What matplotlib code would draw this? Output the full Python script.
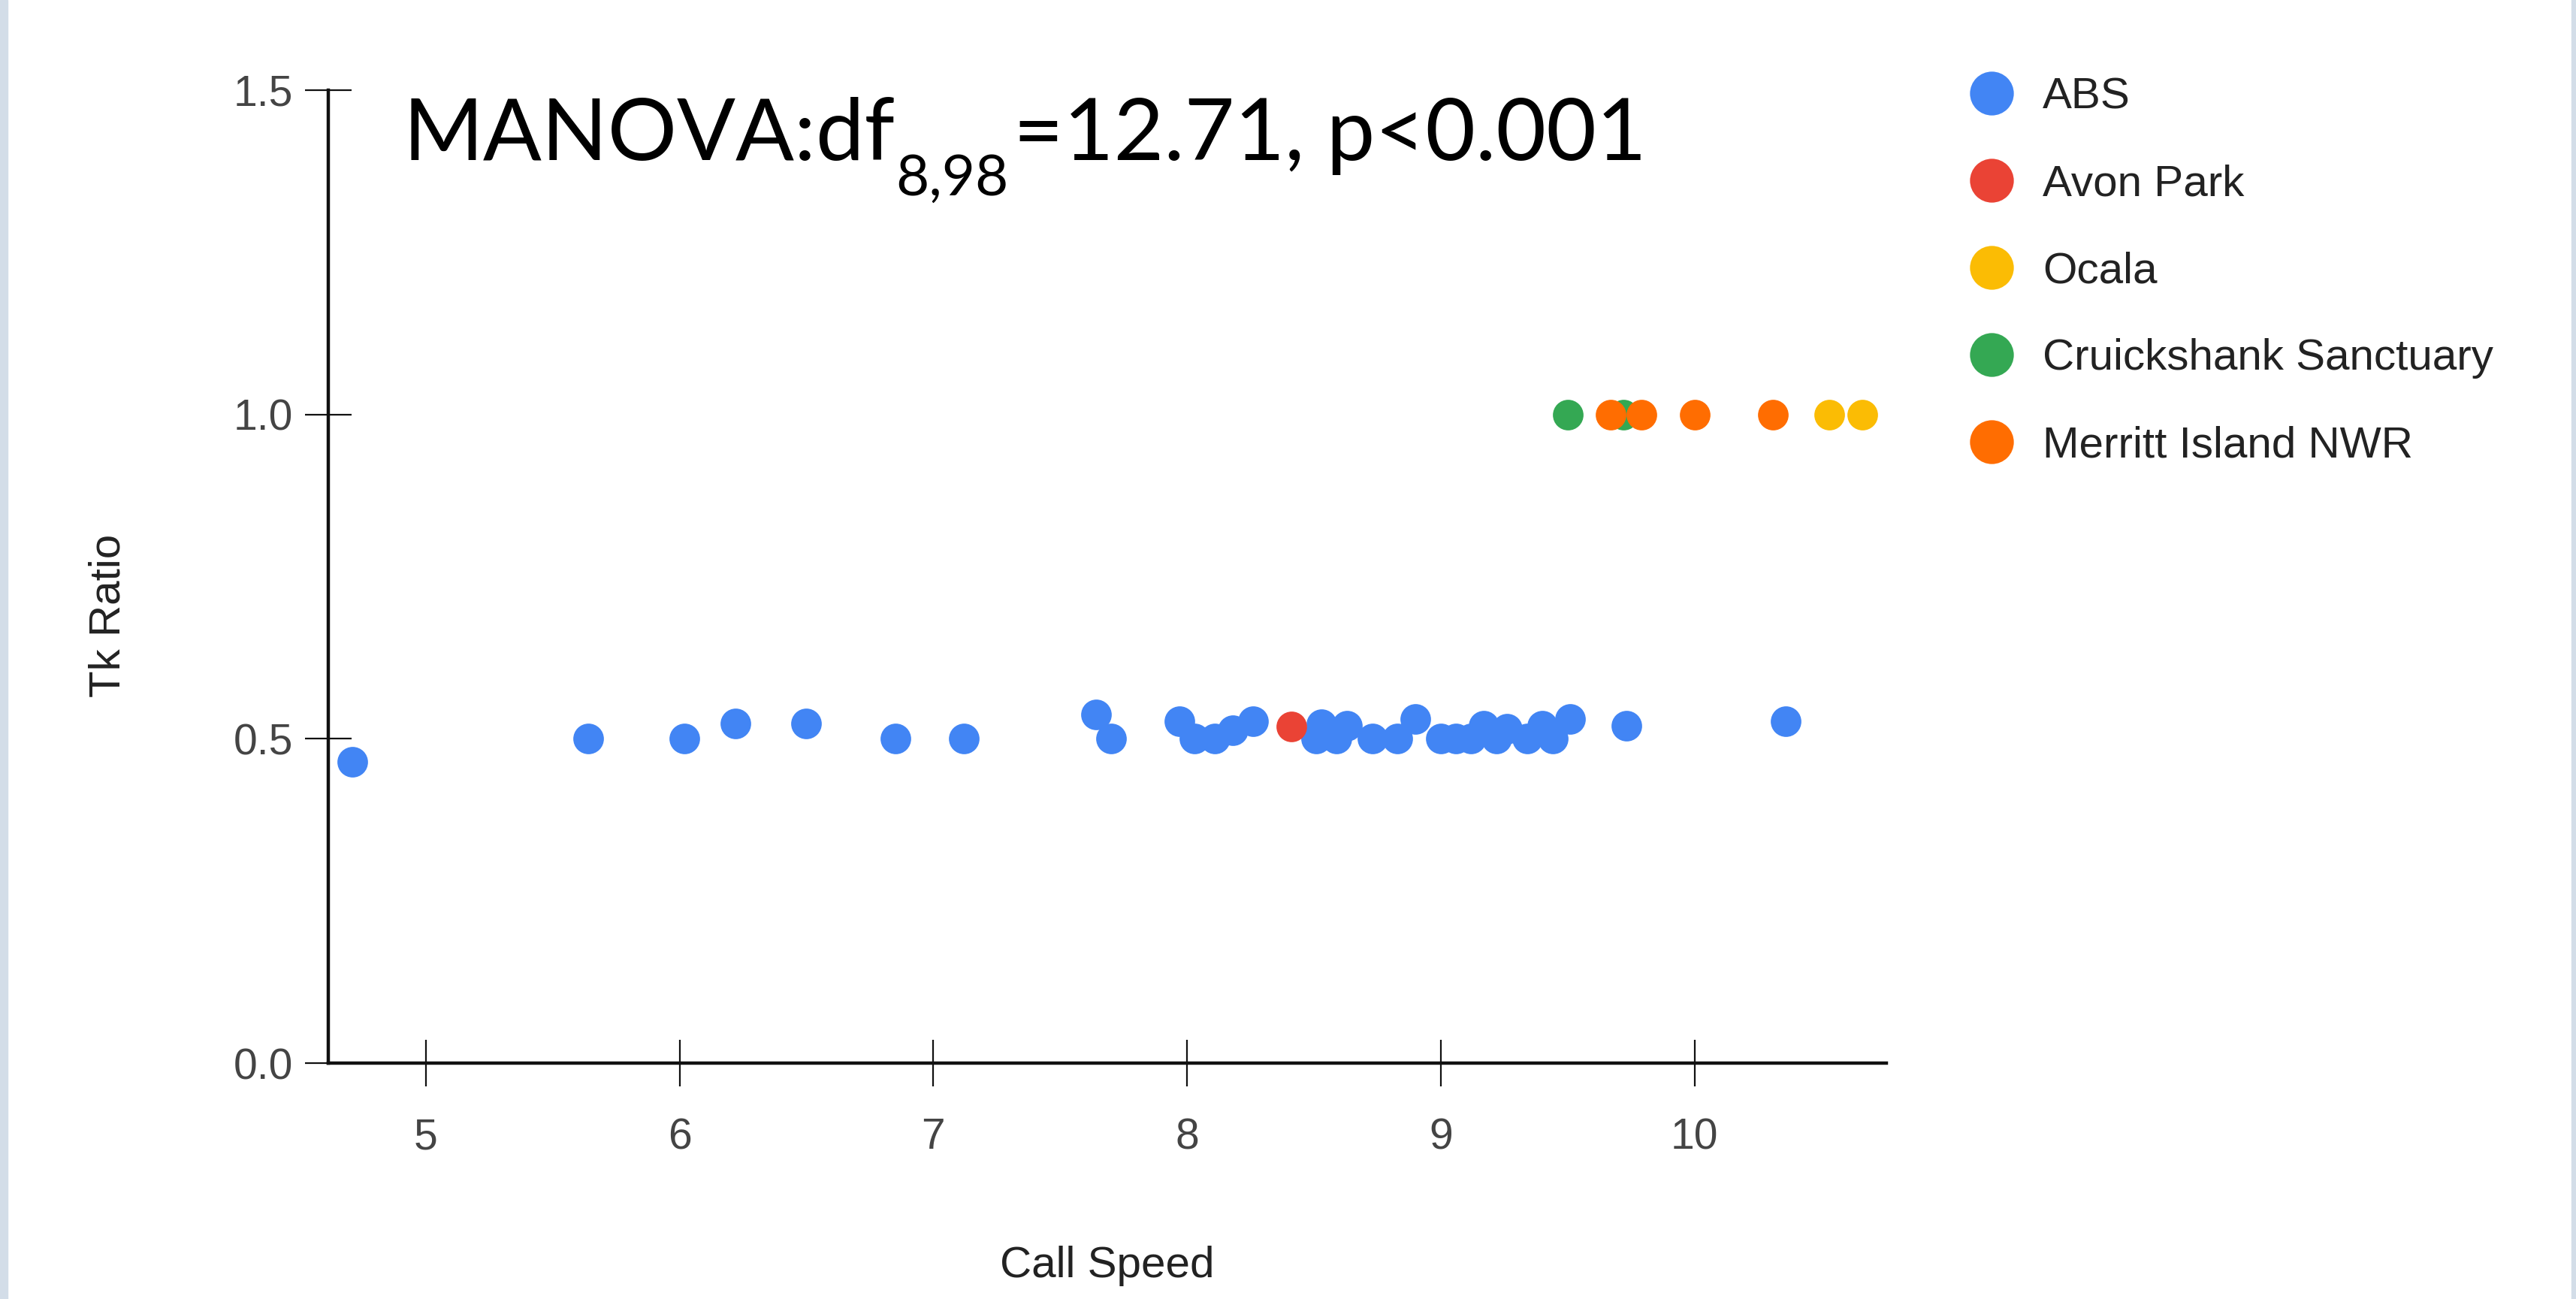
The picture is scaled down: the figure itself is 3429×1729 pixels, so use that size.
import matplotlib.pyplot as plt
from matplotlib.lines import Line2D
from matplotlib.patches import Rectangle

plt.rcParams['font.family'] = ['Liberation Sans', 'DejaVu Sans']

# values
abs_x = [4.71, 5.64, 6.02, 6.22, 6.50, 6.85, 7.12, 7.64, 7.70,
         7.97, 8.03, 8.11, 8.18, 8.26, 8.51, 8.53, 8.59, 8.63, 8.73,
         8.83, 8.90, 9.00, 9.06, 9.12, 9.17, 9.22, 9.26, 9.34, 9.40,
         9.44, 9.51, 9.73, 10.36]
abs_y = [0.465, 0.50, 0.50, 0.524, 0.524, 0.50, 0.50, 0.538, 0.50,
         0.527, 0.50, 0.50, 0.513, 0.527, 0.50, 0.522, 0.50, 0.52, 0.50,
         0.50, 0.53, 0.50, 0.50, 0.50, 0.52, 0.50, 0.515, 0.50, 0.52,
         0.50, 0.53, 0.52, 0.527]
avon_x = [8.41]
avon_y = [0.519]
ocala_x = [10.53, 10.66]
ocala_y = [1.0, 1.0]
cruick_x = [9.50, 9.72]
cruick_y = [1.0, 1.0]
merritt_x = [9.67, 9.79, 10.00, 10.31]
merritt_y = [1.0, 1.0, 1.0, 1.0]

names = ['ABS', 'Avon Park', 'Ocala', 'Cruickshank Sanctuary', 'Merritt Island NWR']
colors = ['#4285F4', '#EA4335', '#FBBC04', '#34A853', '#FF6D01']
xs = [abs_x, avon_x, ocala_x, cruick_x, merritt_x]
ys = [abs_y, avon_y, ocala_y, cruick_y, merritt_y]

fig = plt.figure(figsize=(34.3, 17.29), dpi=100)
fig.patches.append(Rectangle((0, 0), 0.003, 1, transform=fig.transFigure,
                             color='#d3dde8', zorder=0))
fig.patches.append(Rectangle((0.998, 0), 0.002, 1, transform=fig.transFigure,
                             color='#d3dde8', zorder=0))

ax = fig.add_axes([0.1274, 0.1816, 0.6047, 0.749])
for n, x, y, c in zip(names, xs, ys, colors):
    ax.scatter(x, y, s=860, color=c, linewidths=0, label=n, zorder=3, clip_on=False)

ax.set_xlim(4.616, 10.756)
ax.set_ylim(0, 1.5)
ax.set_xticks([5, 6, 7, 8, 9, 10])
ax.set_yticks([0, 0.5, 1.0, 1.5])
ax.set_yticklabels(['0.0', '0.5', '1.0', '1.5'])
for s in ['top', 'right']:
    ax.spines[s].set_visible(False)
for s in ['left', 'bottom']:
    ax.spines[s].set_linewidth(3.2)
    ax.spines[s].set_color('#111111')
ax.tick_params(direction='inout', length=44, width=1.6, color='#111111',
               labelsize=41, labelcolor='#444444')
ax.tick_params(axis='x', pad=30)
ax.tick_params(axis='y', pad=12)

fig.text(0.042, 0.5263, 'Tk Ratio', rotation=90, ha='center', va='center',
         fontsize=42, color='#222222')
fig.text(0.4297, 0.0168, 'Call Speed', ha='center', va='baseline',
         fontsize=42, color='#222222')

handles = [Line2D([], [], marker='o', ls='', ms=42, color=c, mec='none') for c in colors]
fig.legend(handles, names, loc='upper left', bbox_to_anchor=(0.7644, 0.9406),
           frameon=False, fontsize=42, handlelength=1.0, handletextpad=0.67,
           labelspacing=1.06, borderaxespad=0, borderpad=0, labelcolor='#222222')

# statistics annotation, built piece by piece for the subscript
r = fig.canvas.get_renderer()
t1 = fig.text(0.1565, 0.8768, 'MANOVA:df', fontsize=83, family='Lato', va='baseline')
bb = t1.get_window_extent(r)
t2 = fig.text(bb.x1 / fig.bbox.width, 0.8496, '8,98', fontsize=55, family='Lato',
              va='baseline')
bb = t2.get_window_extent(r)
fig.text(bb.x1 / fig.bbox.width + 0.002, 0.8768, '=12.71, p<0.001', fontsize=83,
         family='Lato', va='baseline')

fig.savefig('out.png', dpi=100)
